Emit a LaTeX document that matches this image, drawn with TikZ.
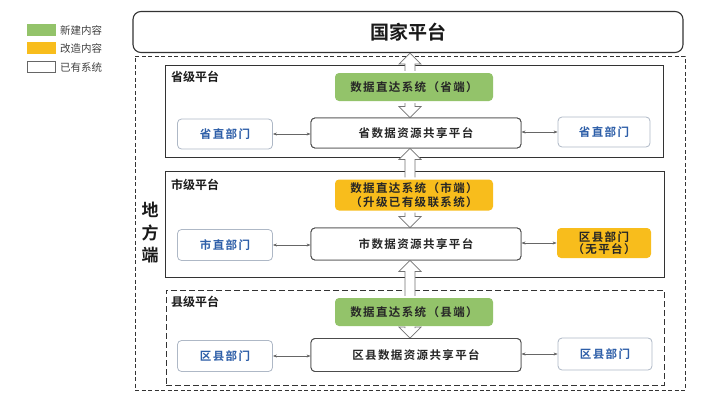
\documentclass[tikz,border=0pt]{standalone}
\usepackage{fontspec}
\setmainfont{Noto Sans CJK SC}[BoldFont={Noto Sans CJK SC Bold}]
\newfontfamily\spfont{Noto Sans CJK SC}[LetterSpace=12,BoldFont={Noto Sans CJK SC Bold}]
\usetikzlibrary{arrows.meta,calc}
\definecolor{newgreen}{HTML}{93C36A}
\definecolor{modorange}{HTML}{F8BD1C}
\definecolor{deptblue}{HTML}{2D5EA8}
\definecolor{deptline}{HTML}{AEB8C6}
\definecolor{frame}{HTML}{333333}
\tikzset{
  legbox/.style={draw=#1, line width=0.6pt, minimum width=28pt, minimum height=11pt, inner sep=0pt},
  legtext/.style={anchor=west, inner sep=0pt, font=\fontsize{10.5}{12}\selectfont, text=black!75},
  sysbox/.style={rounded corners=4pt, draw=none, minimum width=158pt, inner sep=1pt, align=center,
     font=\spfont\bfseries\fontsize{11.5}{13}\selectfont, text=black!85},
  platbox/.style={rounded corners=4pt, draw=black!70, fill=white, line width=0.9pt, minimum width=210pt,
     inner sep=1pt, font=\spfont\bfseries\fontsize{11.5}{13}\selectfont, text=black!85},
  deptbox/.style={rounded corners=4pt, draw=deptline, fill=white, line width=0.8pt, minimum width=95pt,
     inner sep=1pt, align=center, font=\spfont\bfseries\fontsize{11.5}{13}\selectfont, text=deptblue},
  levellabel/.style={anchor=west, inner sep=0pt, font=\bfseries\fontsize{12}{14}\selectfont, text=black!90},
  harrow/.style={fill=white, draw=black!55, line width=0.7pt, line join=miter},
  link/.style={draw=black!60, line width=0.5pt, {Stealth[length=4pt,width=3pt]}-{Stealth[length=4pt,width=3pt]}},
}
\newcommand\hollowup[3]{%
  \draw[harrow] let \p1=(#1.north), \p2=(#2.south) in
    (#3pt-5pt,\y1+2pt) -- (#3pt-5pt,\y2-11pt) -- (#3pt-11pt,\y2-11pt) -- (#3pt,\y2)
    -- (#3pt+11pt,\y2-11pt) -- (#3pt+5pt,\y2-11pt) -- (#3pt+5pt,\y1+2pt);}
\newcommand\hollowdown[3]{%
  \draw[harrow] let \p1=(#1.south), \p2=(#2.north) in
    (#3pt-5pt,\y1-2pt) -- (#3pt-5pt,\y2+11pt) -- (#3pt-11pt,\y2+11pt) -- (#3pt,\y2)
    -- (#3pt+11pt,\y2+11pt) -- (#3pt+5pt,\y2+11pt) -- (#3pt+5pt,\y1-2pt);}
\begin{document}
\begin{tikzpicture}[x=1pt,y=-1pt]
\useasboundingbox (0,0) rectangle (708,412);
% legend
\node[legbox=newgreen, fill=newgreen] (lg1) at (41,30) {};
\node[legbox=modorange, fill=modorange] (lg2) at (41,48) {};
\node[legbox=black!60, fill=white] (lg3) at (41,67) {};
\node[legtext] (lt1) at (60,30) {新建内容};
\node[legtext] (lt2) at (60,48) {改造内容};
\node[legtext] (lt3) at (60,67) {已有系统};
% frames
\node[draw=frame, line width=1.1pt, rounded corners=8pt, minimum width=550pt, minimum height=41pt,
      font=\bfseries\fontsize{19}{22}\selectfont, text=black!90] (nat) at (408,32) {国家平台};
\node[draw=frame, line width=0.9pt, dash pattern=on 4pt off 2.5pt, minimum width=550pt, minimum height=334pt,
      inner sep=0pt] (local) at (410,223) {};
\node[draw=frame, line width=1pt, minimum width=498pt, minimum height=92pt, inner sep=0pt] (prov) at (414,111) {};
\node[draw=frame, line width=1pt, minimum width=499pt, minimum height=106pt, inner sep=0pt] (city) at (414.5,224) {};
\node[draw=frame, line width=1pt, dash pattern=on 6pt off 3pt, minimum width=498pt, minimum height=95pt, inner sep=0pt] (cnty) at (415,337.5) {};
% level labels
\node[levellabel] (lp) at (171,77) {省级平台};
\node[levellabel] (lc) at (171,185) {市级平台};
\node[levellabel] (lk) at (171,302) {县级平台};
\node[align=center, inner sep=0pt, font=\bfseries\fontsize{17}{22.5}\selectfont, text=black!90] (dfd) at (150,233) {地\\方\\端};
% box placeholders, then hollow arrows
\node[sysbox, minimum height=28pt] (gp) at (414,87) {};
\node[platbox, minimum height=30pt] (pp) at (416,133) {};
\node[sysbox, minimum height=31pt] (oc) at (414,195) {};
\node[platbox, minimum height=32pt] (pc) at (416,244) {};
\node[sysbox, minimum height=28pt] (gk) at (414,312) {};
\node[platbox, minimum height=33pt] (pk) at (416,355) {};
\hollowup{gp}{nat}{410}
\hollowdown{gp}{pp}{410}
\hollowup{oc}{pp}{410}
\hollowdown{oc}{pc}{410}
\hollowup{gk}{pc}{410}
\hollowdown{gk}{pk}{410}
% province
\node[sysbox, fill=newgreen, minimum height=28pt] at (gp) {数据直达系统（省端）};
\node[platbox, minimum height=30pt] at (pp) {省数据资源共享平台};
\node[deptbox, minimum height=30pt] (dpl) at (225,134) {省直部门};
\node[deptbox, minimum height=30pt, minimum width=92pt] (dpr) at (604,132) {省直部门};
% city
\node[sysbox, fill=modorange, minimum height=31pt, font=\spfont\bfseries\fontsize{11.5}{13.5}\selectfont] at (oc) {数据直达系统（市端）\\（升级已有级联系统）};
\node[platbox, minimum height=32pt] at (pc) {市数据资源共享平台};
\node[deptbox, minimum height=31pt] (dcl) at (225,245) {市直部门};
\node[deptbox, draw=none, fill=modorange, text=black!85, minimum height=30pt, minimum width=94pt,
      font=\spfont\bfseries\fontsize{11.5}{12.5}\selectfont] (dcr) at (604,243) {区县部门\\（无平台）};
% county
\node[sysbox, fill=newgreen, minimum height=28pt] at (gk) {数据直达系统（县端）};
\node[platbox, minimum height=33pt] at (pk) {区县数据资源共享平台};
\node[deptbox, minimum height=31pt] (dkl) at (225,356) {区县部门};
\node[deptbox, minimum height=32pt, minimum width=94pt] (dkr) at (605,354) {区县部门};
% links
\draw[link] (dpl.east) -- (pp.west |- dpl.east);
\draw[link] (pp.east |- dpr.west) -- (dpr.west);
\draw[link] (dcl.east) -- (pc.west |- dcl.east);
\draw[link] (pc.east |- dcr.west) -- (dcr.west);
\draw[link] (dkl.east) -- (pk.west |- dkl.east);
\draw[link] (pk.east |- dkr.west) -- (dkr.west);
\end{tikzpicture}
\end{document}
